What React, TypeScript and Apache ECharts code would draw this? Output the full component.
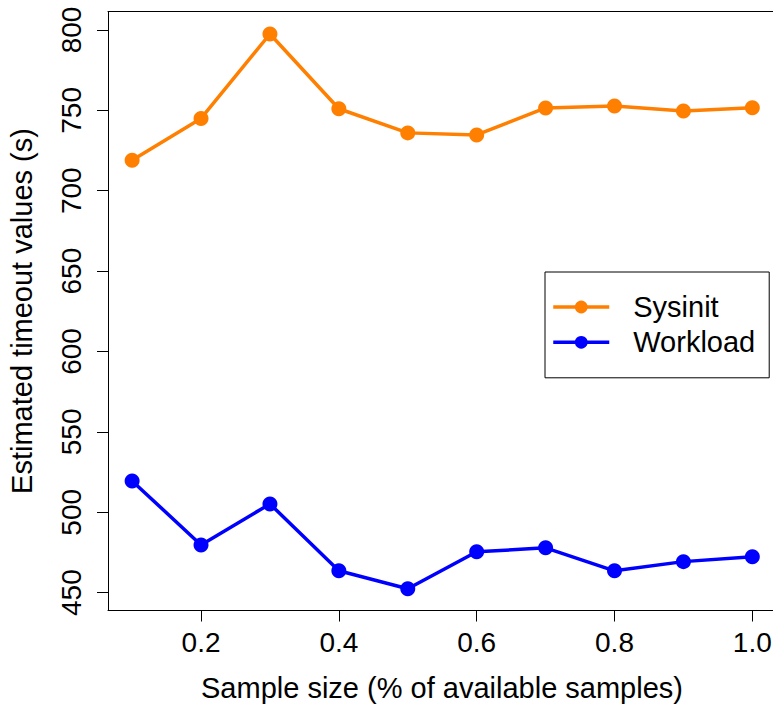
import React, { useEffect, useRef } from "react";
import * as echarts from "echarts";

const sampleSizes = [0.1, 0.2, 0.3, 0.4, 0.5, 0.6, 0.7, 0.8, 0.9, 1.0];
const sysinitValues = [719, 745, 797.5, 751, 736, 734.7, 751.5, 752.7, 749.6, 751.7];
const workloadValues = [519.5, 479.7, 505.2, 463.6, 452.4, 475.4, 477.9, 463.6, 469.3, 472.4];
const xTicks = [0.2, 0.4, 0.6, 0.8, 1.0];
const yTicks = [450, 500, 550, 600, 650, 700, 750, 800];
const seriesNames = ["Sysinit", "Workload"];
const xTitle = "Sample size (% of available samples)";
const yTitle = "Estimated timeout values (s)";

const FONT = "'Liberation Sans', Arial, Helvetica, sans-serif";

export default function App() {
  const ref = useRef<HTMLDivElement>(null);
  useEffect(() => {
    if (!ref.current) return;
    const chart = echarts.init(ref.current, null, { renderer: "svg" });
    const mk = (vals: number[]) => sampleSizes.map((x, i) => [x, vals[i]]);
    const X_MIN = 0.065;
    const X_MAX = 1.0358;
    chart.setOption({
      animation: false,
      backgroundColor: "#ffffff",
      textStyle: { fontFamily: FONT },
      grid: {
        left: 108,
        top: 11.5,
        right: 4,
        bottom: 97.5,
        show: false,
        containLabel: false,
      },
      xAxis: [
        {
          type: "value",
          position: "bottom",
          min: X_MIN,
          max: X_MAX,
          splitLine: { show: false },
          axisLine: { show: true, onZero: false, lineStyle: { color: "#000", width: 1 } },
          axisTick: { show: true, customValues: xTicks, length: 11, lineStyle: { color: "#000", width: 1 } },
          axisLabel: {
            customValues: xTicks,
            formatter: (v: number) => v.toFixed(1),
            fontSize: 28,
            color: "#000",
            fontFamily: FONT,
            margin: 18,
          },
        },
        {
          type: "value",
          position: "top",
          min: X_MIN,
          max: X_MAX,
          splitLine: { show: false },
          axisLine: { show: true, onZero: false, lineStyle: { color: "#000", width: 1 } },
          axisTick: { show: false },
          axisLabel: { show: false },
        },
      ],
      yAxis: {
        type: "value",
        min: 438.9,
        max: 811.5,
        splitLine: { show: false },
        axisLine: { show: true, onZero: false, lineStyle: { color: "#000", width: 1 } },
        axisTick: { show: true, customValues: yTicks, length: 11, lineStyle: { color: "#000", width: 1 } },
        axisLabel: {
          customValues: yTicks,
          rotate: 90,
          fontSize: 28,
          color: "#000",
          fontFamily: FONT,
          margin: 23,
        },
      },
      legend: {
        orient: "vertical",
        left: 545,
        top: 272,
        padding: [20.5, 14, 21, 6.5],
        itemGap: 6.3,
        itemWidth: 56,
        itemHeight: 16,
        borderColor: "#000",
        borderWidth: 1,
        borderRadius: 0,
        lineStyle: { width: 3.5 },
        textStyle: { fontSize: 29, color: "#000", fontFamily: FONT, padding: [0, 0, 0, 19] },
        data: seriesNames,
      },
      series: [
        {
          name: seriesNames[0],
          type: "line",
          xAxisIndex: 0,
          data: mk(sysinitValues),
          color: "#FF7F00",
          symbol: "circle",
          symbolSize: 15,
          lineStyle: { width: 3.5, color: "#FF7F00" },
          itemStyle: { color: "#FF7F00" },
        },
        {
          name: seriesNames[1],
          type: "line",
          xAxisIndex: 0,
          data: mk(workloadValues),
          color: "#0000FF",
          symbol: "circle",
          symbolSize: 15,
          lineStyle: { width: 3.5, color: "#0000FF" },
          itemStyle: { color: "#0000FF" },
        },
      ],
      graphic: [
        {
          type: "text",
          x: 442,
          y: 688,
          style: {
            text: xTitle,
            fontSize: 29,
            fontFamily: FONT,
            fill: "#000",
            textAlign: "center",
            textVerticalAlign: "middle",
            align: "center",
            verticalAlign: "middle",
          },
        },
        {
          type: "text",
          x: 22,
          y: 311,
          rotation: Math.PI / 2,
          style: {
            text: yTitle,
            fontSize: 29,
            fontFamily: FONT,
            fill: "#000",
            textAlign: "center",
            textVerticalAlign: "middle",
            align: "center",
            verticalAlign: "middle",
          },
        },
      ],
    });
    return () => chart.dispose();
  }, []);
  return (
    <div
      style={{ position: "absolute", left: 0, top: 0, width: 773, height: 708, overflow: "hidden" }}
    >
      <div ref={ref} style={{ position: "absolute", left: 0, top: 0, width: 781, height: 708 }} />
    </div>
  );
}
